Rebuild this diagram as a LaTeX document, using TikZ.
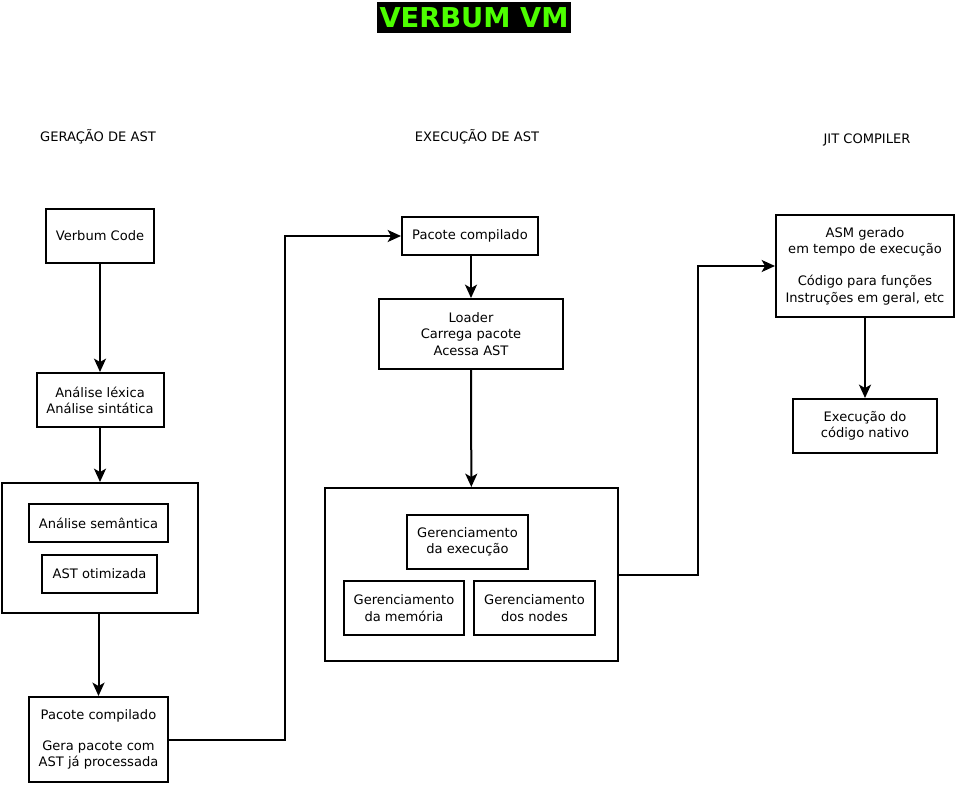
\documentclass[tikz,border=0pt]{standalone}
\usepackage{fontspec}
\setmainfont{DejaVu Sans}
\usetikzlibrary{arrows.meta}
\definecolor{titlegreen}{RGB}{77,255,0}

\begin{document}
\begin{tikzpicture}[x=0.75pt,y=-0.75pt]
    % Node styles
    \tikzset{box/.style={draw,line width=1.5pt,align=center,inner sep=0pt,font=\fontsize{9.8}{12.2}\selectfont},
             heading/.style={font=\fontsize{9.8}{11}\selectfont},
             flow/.style={-{Stealth[length=10pt,width=9pt,inset=2.5pt]},line width=1.5pt}}

    \useasboundingbox (0,0) rectangle (955,784);

    % --- Title ---
    \node[fill=black,text=titlegreen,font=\fontsize{20.5}{22}\selectfont\bfseries,
          minimum width=145.5pt,minimum height=23.25pt,inner sep=0pt] (title) at (474,17.5) {VERBUM VM};

    % --- Column headings ---
    \node[heading] (hgen) at (98,137) {GERAÇÃO DE AST};
    \node[heading] (hexec) at (477,137) {EXECUÇÃO DE AST};
    \node[heading] (hjit) at (867,140) {JIT COMPILER};

    % --- Left column: AST generation ---
    \node[box,minimum width=81pt,minimum height=40.5pt] (code) at (100,236) {Verbum Code};
    \node[box,minimum width=95.25pt,minimum height=40.5pt] (lex) at (100,400) {Análise léxica\\Análise sintática};
    \node[box,minimum width=147pt,minimum height=97.5pt] (astbox) at (100,548) {};
    \node[box,minimum width=104.25pt,minimum height=28.5pt] (sem) at (98.5,523) {Análise semântica};
    \node[box,minimum width=86.25pt,minimum height=28.5pt] (astopt) at (99.5,574) {AST otimizada};
    \node[box,minimum width=104.25pt,minimum height=63.75pt] (pacL) at (98.5,739.5)
        {Pacote compilado\\[11pt]Gera pacote com\\AST já processada};

    % --- Middle column: AST execution ---
    \node[box,minimum width=102pt,minimum height=28.5pt] (pacM) at (470,236) {Pacote compilado};
    \node[box,minimum width=138pt,minimum height=52.5pt] (loader) at (471,334) {Loader\\Carrega pacote\\Acessa AST};
    \node[box,minimum width=219.75pt,minimum height=129.75pt] (runbox) at (471.5,574.5) {};
    \node[box,minimum width=90.75pt,minimum height=40.5pt] (gexec) at (467.5,542) {Gerenciamento\\da execução};
    \node[box,minimum width=90pt,minimum height=40.5pt] (gmem) at (404,608) {Gerenciamento\\da memória};
    \node[box,minimum width=90.75pt,minimum height=40.5pt] (gnodes) at (534.5,608) {Gerenciamento\\dos nodes};

    % --- Right column: JIT ---
    \node[box,minimum width=133.5pt,minimum height=76.5pt] (asm) at (865,266)
        {ASM gerado\\em tempo de execução\\[12pt]Código para funções\\Instruções em geral, etc};
    \node[box,minimum width=108pt,minimum height=40.5pt] (native) at (865,426) {Execução do\\código nativo};

    % --- Bend points ---
    \coordinate (bendA) at (285,490);
    \coordinate (bendB) at (698,420);

    % --- Connectors ---
    \draw[flow] (code) -- (lex);
    \draw[flow] (lex) -- (astbox);
    \draw[flow] (astbox.south -| pacL.north) -- (pacL.north);
    \draw[flow] (pacL.east) -| (bendA) |- (pacM.west);
    \draw[flow] (pacM.south -| loader.north) -- (loader.north);
    \draw[flow] (loader) -- (runbox);
    \draw[flow] (runbox.east) -| (bendB) |- (asm.west);
    \draw[flow] (asm) -- (native);

\end{tikzpicture}
\end{document}
